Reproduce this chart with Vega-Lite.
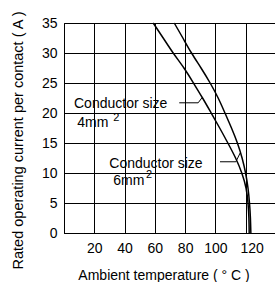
{
  "$schema": "https://vega.github.io/schema/vega-lite/v6.json",
  "autosize": {"type": "none"},
  "padding": {"left": 64, "top": 23, "right": 0, "bottom": 49},
  "width": 212,
  "height": 210,
  "background": "white",
  "config": {
    "font": "Liberation Sans",
    "view": {"stroke": "black", "strokeWidth": 1},
    "axis": {
      "labelFont": "Liberation Sans",
      "titleFont": "Liberation Sans",
      "labelFontSize": 14,
      "titleFontSize": 14,
      "titleFontWeight": "normal",
      "labelColor": "black",
      "titleColor": "black",
      "domainColor": "black",
      "gridColor": "black",
      "gridOpacity": 1,
      "gridWidth": 1,
      "ticks": false,
      "labelOverlap": false,
      "labelBound": false,
      "labelFlush": false
    }
  },
  "datasets": {
    "curves": [
      {"size": "4mm2", "temp": 58.9, "current": 35},
      {"size": "4mm2", "temp": 65.5, "current": 32.5},
      {"size": "4mm2", "temp": 72.1, "current": 30},
      {"size": "4mm2", "temp": 79.2, "current": 27.5},
      {"size": "4mm2", "temp": 85.5, "current": 25},
      {"size": "4mm2", "temp": 91.5, "current": 22.5},
      {"size": "4mm2", "temp": 97.2, "current": 20},
      {"size": "4mm2", "temp": 102.8, "current": 17.5},
      {"size": "4mm2", "temp": 108.2, "current": 15},
      {"size": "4mm2", "temp": 113.3, "current": 12.5},
      {"size": "4mm2", "temp": 117.4, "current": 10},
      {"size": "4mm2", "temp": 120.2, "current": 7.5},
      {"size": "4mm2", "temp": 121.5, "current": 5},
      {"size": "4mm2", "temp": 122.1, "current": 2.5},
      {"size": "4mm2", "temp": 122.3, "current": 0},
      {"size": "6mm2", "temp": 72.8, "current": 35},
      {"size": "6mm2", "temp": 78.5, "current": 32.5},
      {"size": "6mm2", "temp": 84.2, "current": 30},
      {"size": "6mm2", "temp": 90.5, "current": 27.5},
      {"size": "6mm2", "temp": 96.5, "current": 25},
      {"size": "6mm2", "temp": 101.8, "current": 22.5},
      {"size": "6mm2", "temp": 106.3, "current": 20},
      {"size": "6mm2", "temp": 110.6, "current": 17.5},
      {"size": "6mm2", "temp": 114.5, "current": 15},
      {"size": "6mm2", "temp": 117.6, "current": 12.5},
      {"size": "6mm2", "temp": 119.9, "current": 10},
      {"size": "6mm2", "temp": 121.5, "current": 7.5},
      {"size": "6mm2", "temp": 122.5, "current": 5},
      {"size": "6mm2", "temp": 123.1, "current": 2.5},
      {"size": "6mm2", "temp": 123.4, "current": 0}
    ],
    "leaders": [
      {"size": "4mm2", "temp": 76.1, "current": 21.7},
      {"size": "4mm2", "temp": 88.6, "current": 21.7},
      {"size": "4mm2", "temp": 91.3, "current": 22.6},
      {"size": "6mm2", "temp": 103.0, "current": 11.87},
      {"size": "6mm2", "temp": 113.5, "current": 11.87},
      {"size": "6mm2", "temp": 116.4, "current": 13.37}
    ],
    "labels": [
      {"text": "Conductor size", "temp": 6.6, "current": 20.8},
      {"text": "4mm", "temp": 8.8, "current": 17.6},
      {"text": "Conductor size", "temp": 29.9, "current": 10.87},
      {"text": "6mm", "temp": 32.5, "current": 8.08}
    ],
    "sups": [
      {"text": "2", "temp": 32.5, "current": 18.7},
      {"text": "2", "temp": 54.1, "current": 9.2}
    ]
  },
  "encoding": {
    "x": {
      "field": "temp", "type": "quantitative",
      "scale": {"domain": [0, 140], "nice": false, "zero": true},
      "axis": {
        "values": [20, 40, 60, 80, 100, 120, 140],
        "labelExpr": "datum.value == 140 ? '' : datum.label",
        "labelOffset": {"condition": {"test": "datum.value == 120", "value": 6}, "value": 0},
        "labelPadding": 8,
        "labelBaseline": "top",
        "title": "Ambient temperature ( ° C )",
        "titleX": 99.5,
        "titleY": 46.5,
        "titleAlign": "center",
        "titleBaseline": "alphabetic",
        "titleAnchor": null
      }
    },
    "y": {
      "field": "current", "type": "quantitative",
      "scale": {"domain": [0, 35], "nice": false},
      "axis": {
        "values": [0, 5, 10, 15, 20, 25, 30, 35],
        "labelPadding": 7,
        "title": "Rated operating current per contact ( A )",
        "titleFontSize": 14.5,
        "titleX": -46,
        "titleY": 117,
        "titleAngle": 270,
        "titleAlign": "center",
        "titleBaseline": "middle",
        "titleAnchor": null
      }
    }
  },
  "layer": [
    {
      "data": {"name": "curves"},
      "mark": {"type": "line", "color": "black", "strokeWidth": 1.5, "interpolate": "natural"},
      "encoding": {
        "detail": {"field": "size"},
        "order": {"field": "temp", "type": "quantitative"}
      }
    },
    {
      "data": {"name": "leaders"},
      "mark": {"type": "line", "color": "black", "strokeWidth": 1},
      "encoding": {
        "detail": {"field": "size"}
      }
    },
    {
      "data": {"name": "labels"},
      "mark": {"type": "text", "align": "left", "baseline": "alphabetic", "fontSize": 14, "font": "Liberation Sans", "color": "black"},
      "encoding": {
        "text": {"field": "text"}
      }
    },
    {
      "data": {"name": "sups"},
      "mark": {"type": "text", "align": "left", "baseline": "alphabetic", "fontSize": 11, "font": "Liberation Sans", "color": "black"},
      "encoding": {
        "text": {"field": "text"}
      }
    }
  ]
}
